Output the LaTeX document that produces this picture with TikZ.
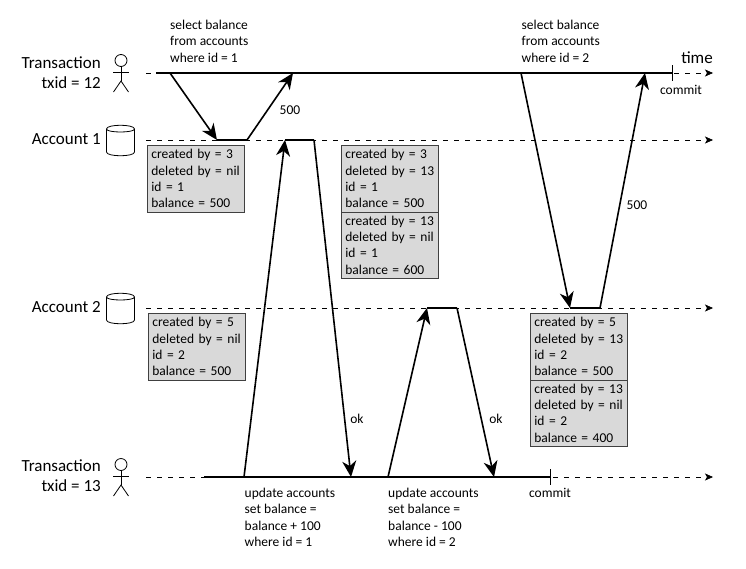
\documentclass[tikz,border=0pt]{standalone}
\usepackage{fontspec}
\setmainfont{Carlito}
\usetikzlibrary{arrows.meta}
\newcommand{\vrec}[4]{\mbox{#1}\\\mbox{#2}\\\mbox{#3}\\\mbox{#4}}
\tikzset{
  x=1pt,y=-1pt,
  lane/.style={dash pattern=on 4.5pt off 6.5pt,line width=0.6pt,-{Stealth[length=8pt,width=7pt,inset=2pt]}},
  solidl/.style={line width=1.6pt},
  msg/.style={line width=1.6pt,line join=round,-{Stealth[length=16pt,width=14pt,inset=5pt]}},
  msgplain/.style={line width=1.6pt},
  verbox/.style={draw=black!75,fill=black!15,line width=0.7pt,minimum width=97pt,minimum height=66.5pt,inner ysep=0pt,inner xsep=4.5pt,anchor=north west,
     text width=88pt,align=left,font=\fontsize{13.5}{16.3}\selectfont},
  big/.style={font=\fontsize{17}{20}\selectfont,align=right,inner sep=0pt},
  sm/.style={font=\fontsize{13.5}{16.3}\selectfont,align=left,inner sep=0pt},
  sketch/.style={line width=0.8pt,black},
}
\begin{document}
\begin{tikzpicture}
\useasboundingbox (0,0) rectangle (746,568);
% lanes
\coordinate (t1s) at (146,73);   \coordinate (t1e) at (713,73);
\coordinate (a1s) at (146,140);  \coordinate (a1e) at (713,140);
\coordinate (a2s) at (146,308);  \coordinate (a2e) at (713,308);
\coordinate (t2s) at (146,477);  \coordinate (t2e) at (713,477);
\draw[lane] (t1s) -- (t1e);
\draw[lane] (a1s) -- (a1e);
\draw[lane] (a2s) -- (a2e);
\draw[lane] (t2s) -- (t2e);
% solid timelines
\coordinate (t1a) at (156,73); \coordinate (t1b) at (672,73);
\coordinate (t1u) at (672,65); \coordinate (t1d) at (672,81);
\coordinate (t2a) at (204,477); \coordinate (t2b) at (550,477);
\coordinate (t2u) at (550,469); \coordinate (t2d) at (550,485);
\draw[solidl] (t1a) -- (t1b);
\draw[line width=1pt] (t1u) -- (t1d);
\draw[solidl] (t2a) -- (t2b);
\draw[line width=1pt] (t2u) -- (t2d);
% boxes
\node[verbox] (b1) at (146.5,145) {\vrec{created by = 3}{deleted by = nil}{id = 1}{balance = 500}};
\node[verbox] (b2) at (340.5,145) {\vrec{created by = 3}{deleted by = 13}{id = 1}{balance = 500}};
\node[verbox] (b3) at (340.5,211.5) {\vrec{created by = 13}{deleted by = nil}{id = 1}{balance = 600}};
\node[verbox] (b4) at (147.5,313) {\vrec{created by = 5}{deleted by = nil}{id = 2}{balance = 500}};
\node[verbox] (b5) at (529.5,313) {\vrec{created by = 5}{deleted by = 13}{id = 2}{balance = 500}};
\node[verbox] (b6) at (529.5,379.5) {\vrec{created by = 13}{deleted by = nil}{id = 2}{balance = 400}};
% messages
\coordinate (m1a) at (170,73); \coordinate (m1b) at (217,140); \coordinate (m1c) at (247,140); \coordinate (m1d) at (293,73);
\coordinate (m2a) at (244,477); \coordinate (m2b) at (285,140); \coordinate (m2c) at (314,140); \coordinate (m2d) at (351,477);
\coordinate (m3a) at (388,477); \coordinate (m3b) at (427,308); \coordinate (m3c) at (457,308); \coordinate (m3d) at (494,477);
\coordinate (m4a) at (521,73); \coordinate (m4b) at (570,308); \coordinate (m4c) at (600,308); \coordinate (m4d) at (645,73);
\foreach \m in {m1,m2,m3,m4}{
  \draw[msg] (\m a) -- (\m b);
  \draw[msgplain] (\m b) -- (\m c);
  \draw[msg] (\m c) -- (\m d);
}
% labels
\node[big,anchor=east] (l1) at (101,73) {Transaction\\txid = 12};
\node[big,anchor=east] (l2) at (101,139.5) {Account 1};
\node[big,anchor=east] (l3) at (101,307.5) {Account 2};
\node[big,anchor=east] (l4) at (101,476) {Transaction\\txid = 13};
\node[sm,anchor=north west] (q1) at (170,20) {select balance\\from accounts\\where id = 1};
\node[sm,anchor=north west] (q2) at (521.5,20) {select balance\\from accounts\\where id = 2};
\node[sm,anchor=north west] (q3) at (244.5,488) {update accounts\\set balance =\\balance + 100\\where id = 1};
\node[sm,anchor=north west] (q4) at (388,488) {update accounts\\set balance =\\balance - 100\\where id = 2};
\node[sm] (v1) at (290,110) {500};
\node[sm] (v2) at (637,205) {500};
\node[sm] (v3) at (357,419) {ok};
\node[sm] (v4) at (496,419) {ok};
\node[sm] (c1) at (681,90) {commit};
\node[sm] (c2) at (550,493) {commit};
\node[big,inner sep=0pt] (tm) at (697,58) {time};
% actors
\foreach \oy in {73,477}{
  \begin{scope}[shift={(121,\oy)}]
   \draw[sketch] (0,-12.5) circle (6);
   \draw[sketch] (0,-6.5) -- (0,8);
   \draw[sketch] (-8,-0.5) -- (8,-0.5);
   \draw[sketch] (-7.5,19) -- (0,8) -- (7.5,19);
  \end{scope}
}
% cylinders
\foreach \oy in {124,292}{
  \begin{scope}[shift={(106.5,\oy)}]
   \draw[sketch,fill=white] (0,5) .. controls (0,0) and (28,0) .. (28,5) -- (28,28) .. controls (28,33) and (0,33) .. (0,28) -- cycle;
   \draw[sketch] (0,5) .. controls (0,9) and (28,9) .. (28,5);
  \end{scope}
}
\end{tikzpicture}
\end{document}
